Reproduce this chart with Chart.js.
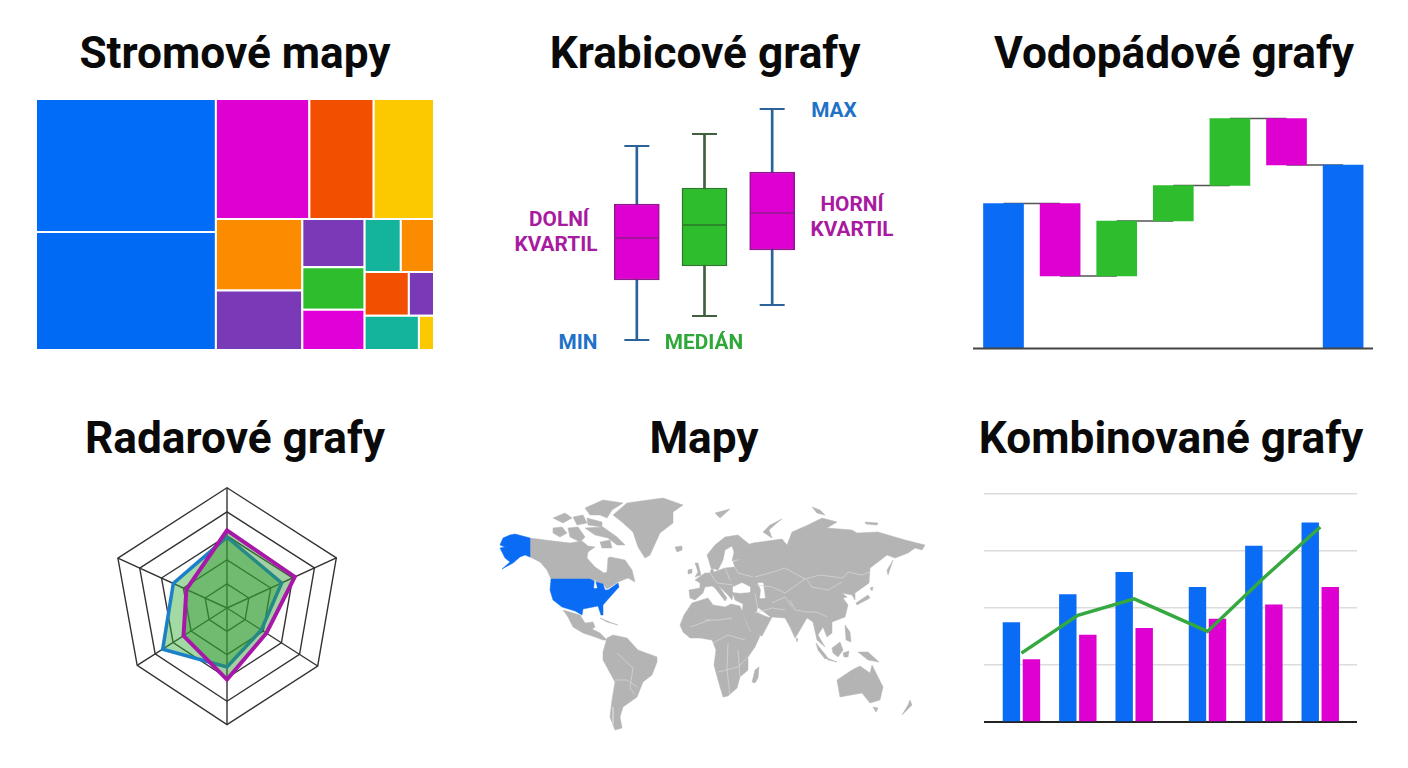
<!DOCTYPE html>
<html lang="cs">
<head>
<meta charset="utf-8">
<title>Typy grafů</title>
<script src="https://cdn.jsdelivr.net/npm/chart.js@4"></script>
<style>
  html, body { margin: 0; background: #fff; }
  #page { position: relative; width: 1408px; height: 768px; overflow: hidden; font-family: Roboto, sans-serif; }
  canvas { position: absolute; }
  h2, .tag { position: absolute; margin: 0; transform: translate(-50%, -50%); white-space: nowrap; }
  h2 { font-size: 44.2px; font-weight: 700; color: #0a0a0a; }
  .tag { font-size: 20.8px; font-weight: 700; line-height: 25px; text-align: center; }
  .blue { color: #1f72c8; } .green { color: #2fa83a; } .pink { color: #a81aa0; }
</style>
</head>
<body>
<div id="page">
  <h2 style="left:235px;top:53px">Stromové mapy</h2>
  <h2 style="left:705px;top:53px">Krabicové grafy</h2>
  <h2 style="left:1174px;top:53px">Vodopádové grafy</h2>
  <h2 style="left:235px;top:438px">Radarové grafy</h2>
  <h2 style="left:704px;top:438px">Mapy</h2>
  <h2 style="left:1171px;top:438px">Kombinované grafy</h2>

  <canvas id="treemap" width="410" height="260" style="left:30px;top:95px"></canvas>
  <canvas id="boxes" width="203" height="250" style="left:603px;top:100px"></canvas>
  <canvas id="waterfall" width="400" height="252" style="left:973px;top:100px"></canvas>
  <canvas id="radar" width="260" height="260" style="left:97px;top:478px"></canvas>
  <canvas id="map" width="440" height="245" style="left:490px;top:490px"></canvas>
  <canvas id="combo" width="373" height="234" style="left:984px;top:491px"></canvas>

  <div class="tag blue" style="left:834px;top:110px">MAX</div>
  <div class="tag blue" style="left:578px;top:342px">MIN</div>
  <div class="tag green" style="left:704px;top:342px">MEDIÁN</div>
  <div class="tag pink" style="left:556px;top:232px"><span style="position:relative;left:3px">DOLNÍ</span><br>KVARTIL</div>
  <div class="tag pink" style="left:852px;top:217px">HORNÍ<br>KVARTIL</div>
</div>

<script>
const BLUE = '#0a6cf5', MAGENTA = '#dd00d0', GREEN = '#2dbd2d';

// treemap: cell areas, colours, and how the cells nest
const treemapValues = [23628, 20943, 11067, 7616, 7140, 6106, 5074, 2976, 2604, 2480, 1890, 1733, 1914, 1088, 1836, 510];
const treemapColors = ['#006cf7', '#006af5', '#dd00d0', '#f25000', '#fcc800', '#fb8c00', '#7a3ab8', '#7a3ab8',
                       '#2dbd2d', '#e000d8', '#14b49c', '#fb8c00', '#f25000', '#7a3ab8', '#14b49c', '#fcc800'];
const treemapTree = [[0, 1], [[2, 3, 4], [[5, 6], [7, 8, 9], [[10, 11], [12, 13], [14, 15]]]]];

// box plots
const boxLabels = ['A', 'B', 'C'];
const boxMin = [10, 34, 45];
const boxQ1 = [70, 84, 100];
const boxMedian = [112, 125, 137];
const boxQ3 = [146, 162, 178];
const boxMax = [204, 216, 241];

// waterfall
const waterfallFrom = [0, 145, 72.5, 127.5, 163, 230, 0];
const waterfallTo = [145, 72.5, 127.5, 163, 230, 183.5, 183.5];

// radar, spokes clockwise from the top
const radarLabels = ['1', '2', '3', '4', '5', '6'];
const radarPurple = [3.23, 3.1, 2.17, 3.07, 2.42, 1.86];
const radarBlue = [2.95, 2.5, 1.89, 2.53, 3.58, 2.46];

// combo
const comboX = [0, 1, 2, 3.3, 4.3, 5.3];
const comboBlue = [1.75, 2.24, 2.63, 2.37, 3.09, 3.5];
const comboPink = [1.1, 1.53, 1.65, 1.81, 2.06, 2.37];
const comboLine = [1.21, 1.87, 2.16, 1.59, 2.53, 3.42];
const comboGridTicks = [0, 1, 2, 3, 4];

// map outlines in map units
const mapUSA = [
  [[503,538],[510,535],[515,534],[530,538],[530,557],[525,555],[520,557],[513,563],[502,569],[510,562],[505,558],[500,548],[505,547],[500,545]],
  [[551,579],[590,579],[596,582],[603,584],[605,590],[608,590],[618,583],[619,587],[610,597],[603,605],[603,615],[601,615],[598,606],[583,609],[582,615],[575,611],[562,607],[553,600],[550,590]]
];
const mapLand = [
  // canada
  [[530,538],[545,540],[570,543],[582,541],[588,546],[595,547],[588,552],[587,558],[595,567],[604,573],[607,572],[608,558],[610,557],[625,560],[632,570],[635,582],[628,578],[618,582],[607,589],[603,584],[596,582],[590,579],[551,579],[547,570],[540,562],[530,557]],
  [[585,508],[603,500],[623,503],[612,510],[607,518],[600,515],[590,515]],
  [[553,518],[565,513],[572,518],[563,523]],
  [[573,517],[583,515],[587,523],[577,525]],
  [[587,518],[602,522],[602,527],[588,525]],
  [[553,528],[562,527],[567,533],[560,537],[553,533]],
  [[568,528],[578,527],[585,537],[580,542],[570,537]],
  [[585,528],[603,527],[617,537],[625,545],[617,545],[608,538],[595,535]],
  [[600,542],[610,540],[612,548],[602,548]],
  // greenland, iceland
  [[613,515],[627,503],[663,498],[683,505],[673,512],[673,523],[660,533],[650,555],[645,558],[638,547],[633,532],[622,522]],
  [[675,547],[682,546],[682,550],[677,552]],
  // mexico and central america, cuba
  [[563,610],[580,615],[585,623],[593,622],[595,627],[592,629],[600,633],[607,640],[603,640],[595,637],[583,633],[573,627],[568,617]],
  [[600,618],[612,623],[618,625],[607,622]],
  // south america
  [[607,638],[613,635],[627,638],[638,650],[657,657],[657,662],[652,675],[643,682],[637,697],[623,707],[620,717],[622,728],[615,730],[610,717],[612,700],[615,682],[603,660],[603,652]],
  // africa, madagascar
  [[680,625],[684,615],[692,603],[708,598],[713,605],[725,607],[731,604],[740,606],[746,622],[750,631],[757,634],[760,636],[755,647],[748,657],[748,670],[740,677],[737,688],[728,696],[723,697],[718,680],[714,665],[716,650],[712,640],[700,638],[690,638],[683,632]],
  [[755,670],[759,667],[758,678],[755,683],[752,682]],
  // eurasia
  [[708,558],[707,555],[715,545],[725,537],[738,535],[749,544],[743,546],[753,543],[782,539],[787,545],[792,532],[808,525],[822,518],[837,522],[827,528],[852,530],[857,533],[878,532],[905,540],[925,545],[922,550],[915,548],[908,553],[895,558],[887,555],[878,562],[870,568],[869,583],[862,588],[855,593],[855,600],[852,595],[842,593],[847,597],[843,598],[848,605],[845,617],[832,622],[832,633],[827,637],[823,627],[818,635],[825,647],[817,640],[813,622],[807,618],[797,635],[795,638],[790,627],[785,618],[772,617],[762,636],[753,633],[750,630],[742,612],[743,604],[735,600],[733,594],[732,600],[728,595],[718,585],[727,598],[725,601],[715,588],[712,586],[705,587],[703,593],[695,600],[690,598],[689,590],[700,588],[700,583],[695,580],[705,573],[710,573],[712,567],[714,572],[725,568],[735,567],[733,562],[741,559],[732,561],[734,552],[732,546],[725,550],[723,560],[718,570],[711,568]],
  // british isles
  [[695,563],[698,563],[701,575],[695,577],[698,572]],
  [[688,570],[692,569],[692,573],[688,574]],
  // arctic islands
  [[763,532],[770,525],[782,519],[778,522],[769,530],[772,538]],
  [[715,513],[730,509],[720,518]],
  [[812,507],[820,510],[825,515],[817,513]],
  [[865,522],[878,523],[877,525],[866,524]],
  // sakhalin, japan
  [[892,562],[893,560],[888,575],[887,570]],
  [[868,595],[870,598],[857,605],[856,603]],
  [[870,588],[873,587],[872,591]],
  // south east asia
  [[816,643],[828,658],[825,659],[818,650]],
  [[827,658],[837,662],[828,660]],
  [[832,648],[840,642],[843,650],[838,657],[833,653]],
  [[843,653],[849,651],[848,657],[844,657]],
  [[845,625],[850,632],[851,642],[846,640]],
  [[858,652],[868,652],[879,662],[868,660]],
  [[796,638],[798,639],[797,642]],
  // australia, tasmania, new zealand
  [[837,680],[852,670],[860,666],[870,673],[872,665],[883,687],[880,700],[870,703],[862,693],[840,697]],
  [[873,707],[878,708],[876,712]],
  [[910,700],[912,705],[902,715],[908,705]]
];
const mapSeas = [
  [[758,583],[763,583],[765,598],[760,598],[761,590]],
  [[733,587],[742,583],[750,587],[750,592],[740,593],[733,592]],
  [[758,608],[770,617],[766,616],[757,612]],
  [[595,580],[597,588],[594,588]]
];
const mapBorders = [
  [[755,577],[773,572],[785,568],[805,579],[820,575],[843,578],[848,572],[862,575],[870,572]],
  [[807,580],[812,587],[828,590],[842,582]],
  [[757,585],[772,587],[785,593],[805,579]],
  [[772,603],[785,597],[792,607]],
  [[710,573],[717,583],[733,585]],
  [[725,568],[730,580]],
  [[735,567],[738,573],[753,577]],
  [[755,593],[758,610]],
  [[755,613],[772,608],[785,610]],
  [[790,600],[795,610],[807,612],[817,612],[827,617]],
  [[705,620],[718,620],[732,618]],
  [[713,643],[728,635],[745,640]],
  [[718,672],[738,667],[748,657]],
  [[728,643],[727,670],[730,695]],
  [[738,650],[740,677]],
  [[690,627],[710,620]],
  [[617,653],[633,668],[630,688],[635,695]],
  [[615,680],[627,680],[637,687]],
  [[613,707],[613,725]]
];

// fills a closed shape through the points of a scatter dataset
const polygonFill = {
  id: 'polygonFill',
  beforeDatasetsDraw(chart) {
    const ctx = chart.ctx;
    chart.data.datasets.forEach((ds, i) => {
      if (!ds.polygon) return;
      const pts = chart.getDatasetMeta(i).data;
      ctx.beginPath();
      pts.forEach((p, n) => n ? ctx.lineTo(p.x, p.y) : ctx.moveTo(p.x, p.y));
      ctx.closePath();
      ctx.fillStyle = ds.backgroundColor;
      ctx.fill();
      ctx.lineJoin = 'round';
      ctx.strokeStyle = ds.borderColor;
      ctx.lineWidth = ds.borderWidth;
      ctx.stroke();
    });
  }
};

// autoPadding off so the plot fills the canvas and the axes map straight onto it
const hiddenParts = {
  responsive: false, animation: false,
  layout: { autoPadding: false },
  plugins: { legend: { display: false }, tooltip: { enabled: false } }
};
const hiddenLinear = (min, max, extra) => Object.assign({ type: 'linear', display: false, offset: false, min, max }, extra);

// --- treemap ---
function sumNode(node) {
  return Array.isArray(node) ? node.reduce((s, n) => s + sumNode(n), 0) : treemapValues[node];
}
function sliceNode(node, x, y, w, h, across, out) {
  if (!Array.isArray(node)) {
    out.push({ index: node, points: [{x, y}, {x: x + w, y}, {x: x + w, y: y + h}, {x, y: y + h}] });
    return out;
  }
  const total = sumNode(node);
  let pos = 0;
  node.forEach(child => {
    const part = sumNode(child) / total;
    if (across) sliceNode(child, x + pos * w, y, w * part, h, false, out);
    else sliceNode(child, x, y + pos * h, w, h * part, true, out);
    pos += part;
  });
  return out;
}
new Chart(document.getElementById('treemap'), {
  type: 'scatter',
  data: {
    datasets: sliceNode(treemapTree, 0, 0, 398, 251, true, []).map(cell => ({
      polygon: true,
      data: cell.points,
      pointRadius: 0,
      backgroundColor: treemapColors[cell.index],
      borderColor: '#fff',
      borderWidth: 2
    }))
  },
  options: Object.assign({}, hiddenParts, {
    scales: { x: hiddenLinear(-6, 404), y: hiddenLinear(-4, 256, { reverse: true }) }
  }),
  plugins: [polygonFill]
});

// --- box plots ---
const whiskerColors = ['#2a6299', '#3f5f3f', '#2a6299'];
const boxFill = [MAGENTA, GREEN, MAGENTA];
const boxEdge = ['#8e1a8e', '#2a7a2a', '#8e1a8e'];
const boxPoints = (data, radius, colors, width) => ({
  type: 'line', data, showLine: false, pointStyle: 'line', pointRadius: radius,
  pointBorderColor: colors, pointBorderWidth: width, order: 1
});
new Chart(document.getElementById('boxes'), {
  type: 'bar',
  data: {
    labels: boxLabels,
    datasets: [
      boxPoints(boxMin, 12.5, whiskerColors, 2),
      boxPoints(boxMax, 12.5, whiskerColors, 2),
      boxPoints(boxMedian, 22, boxEdge, 1.5),
      { data: boxQ1.map((v, i) => [v, boxQ3[i]]), barThickness: 45, grouped: false, backgroundColor: boxFill,
        borderColor: boxEdge, borderWidth: 1.5, borderSkipped: false, order: 2 },
      { data: boxMin.map((v, i) => [v, boxMax[i]]), barThickness: 2, grouped: false, backgroundColor: whiskerColors, order: 3 }
    ]
  },
  options: Object.assign({}, hiddenParts, {
    scales: { x: { display: false }, y: hiddenLinear(0, 250) }
  })
});

// --- waterfall ---
const waterfallColors = waterfallFrom.map((v, i) =>
  v === 0 ? BLUE : (waterfallTo[i] > v ? GREEN : MAGENTA));
const connectors = waterfallTo.slice(0, -1).map((v, i) => ({
  type: 'line', data: [{x: i, y: v}, {x: i + 1, y: v}], borderColor: '#555', borderWidth: 1.5, pointRadius: 0, order: 3
}));
new Chart(document.getElementById('waterfall'), {
  type: 'bar',
  data: {
    datasets: [
      { data: waterfallFrom.map((v, i) => ({x: i, y: [v, waterfallTo[i]]})), barThickness: 40,
        backgroundColor: waterfallColors, order: 1 },
      { type: 'line', data: [{x: -0.539, y: 0}, {x: 6.528, y: 0}], borderColor: '#444', borderWidth: 2, pointRadius: 0, order: 0 }
    ].concat(connectors)
  },
  options: Object.assign({}, hiddenParts, {
    scales: { x: hiddenLinear(-0.539, 6.528), y: hiddenLinear(-3.5, 248.5) }
  })
});

// --- radar, the reference hexagon is not regular ---
const spokeAngles = [0, 65.4, 122.6, 180, 237.4, 294.6];
const spokeLengths = [0.925, 0.925, 0.828, 0.897, 0.82, 0.923];
const radial = Chart.RadialLinearScale.prototype;
const basePosition = radial.getPointPosition;
radial.getIndexAngle = function (index) { return spokeAngles[index] * Math.PI / 180; };
radial.getPointPosition = function (index, distance, extra) {
  return basePosition.call(this, index, distance * spokeLengths[index], extra);
};
new Chart(document.getElementById('radar'), {
  type: 'radar',
  data: {
    labels: radarLabels,
    datasets: [
      { data: radarPurple, borderColor: '#a818a8', borderWidth: 4, backgroundColor: 'rgba(50,150,50,.45)', fill: true, pointRadius: 0 },
      { data: radarBlue, borderColor: '#1a80c8', borderWidth: 3.5, backgroundColor: 'rgba(50,170,50,.45)', fill: true, pointRadius: 0 }
    ]
  },
  options: Object.assign({}, hiddenParts, {
    scales: {
      r: {
        min: 0, max: 5,
        ticks: { display: false, stepSize: 1 },
        pointLabels: { display: false },
        grid: { color: '#333', lineWidth: 1.4 },
        angleLines: { color: '#333', lineWidth: 1.4 }
      }
    }
  })
});

// --- map ---
const toPoints = shape => shape.map(p => ({x: p[0], y: p[1]}));
const mapShape = color => shape => ({
  polygon: true, data: toPoints(shape), pointRadius: 0, backgroundColor: color, borderColor: color, borderWidth: 0.5
});
new Chart(document.getElementById('map'), {
  type: 'scatter',
  data: {
    datasets: mapLand.map(mapShape('#b4b4b4'))
      .concat(mapUSA.map(mapShape(BLUE)))
      .concat(mapSeas.map(mapShape('#fff')))
      .concat(mapBorders.map(shape => ({
        data: toPoints(shape), showLine: true, pointRadius: 0, borderColor: '#d9d9d9', borderWidth: 0.7
      })))
  },
  options: Object.assign({}, hiddenParts, {
    scales: { x: hiddenLinear(490, 930), y: hiddenLinear(490, 735, { reverse: true }) }
  }),
  plugins: [polygonFill]
});

// --- combo ---
const xy = values => values.map((v, i) => ({x: comboX[i], y: v}));
new Chart(document.getElementById('combo'), {
  type: 'bar',
  data: {
    datasets: [
      { type: 'line', data: xy(comboLine), borderColor: '#35a840', borderWidth: 3.5, pointRadius: 0, order: 0 },
      { data: xy(comboBlue), backgroundColor: BLUE, barPercentage: 0.87, categoryPercentage: 0.746, order: 1 },
      { data: xy(comboPink), backgroundColor: MAGENTA, barPercentage: 0.87, categoryPercentage: 0.746, order: 1 }
    ]
  },
  options: Object.assign({}, hiddenParts, {
    scales: {
      x: hiddenLinear(-0.664, 5.952),
      y: {
        type: 'linear', min: -0.05, max: 4.05,
        afterBuildTicks: axis => { axis.ticks = comboGridTicks.map(value => ({ value })); },
        ticks: { display: false },
        border: { display: false },
        grid: {
          drawTicks: false,
          color: c => c.tick.value === 0 ? '#222' : '#dcdcdc',
          lineWidth: c => c.tick.value === 0 ? 2 : 1.5
        }
      }
    }
  })
});
</script>
</body>
</html>
